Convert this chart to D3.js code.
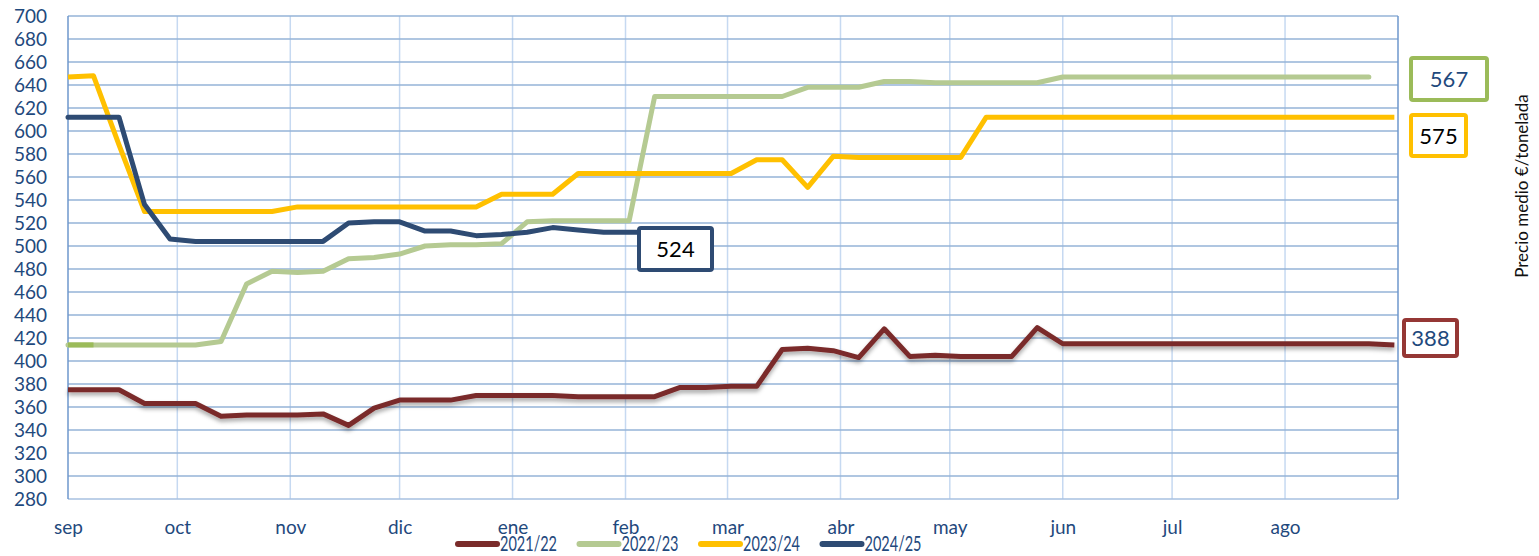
<!DOCTYPE html>
<html lang="es">
<head>
  <meta charset="UTF-8">
  <title>Precio medio €/tonelada</title>
  <style>
    body { margin: 0; background: #fff; }
    svg { display: block; font-family: Lato, "Open Sans", sans-serif; }
    .tick text { fill: #1F497D; }
    .line { fill: none; stroke-width: 5px; stroke-linejoin: round; }
  </style>
</head>
<body>
  <svg width="1539" height="556"></svg>

  <script src="https://d3js.org/d3.v7.min.js"></script>
  <script>
    // weekly prices, first week starts 1 sep
    const seasons = ["2021/22", "2022/23", "2023/24", "2024/25"];
    const colors = ["#7A2B2A", "#B5CA92", "#FFC000", "#2E4B73"];

    const s2122 = [375, 375, 375, 363, 363, 363, 352, 353, 353, 353, 354, 344, 359, 366, 366, 366,
      370, 370, 370, 370, 369, 369, 369, 369, 377, 377, 378, 378, 410, 411, 409, 403, 428, 404,
      405, 404, 404, 404, 429, 415, 415, 415, 415, 415, 415, 415, 415, 415, 415, 415, 415, 415, 414];
    const s2223 = [414, 414, 414, 414, 414, 414, 417, 467, 478, 477, 478, 489, 490, 493, 500, 501,
      501, 502, 521, 522, 522, 522, 522, 630, 630, 630, 630, 630, 630, 638, 638, 638, 643, 643,
      642, 642, 642, 642, 642, 647, 647, 647, 647, 647, 647, 647, 647, 647, 647, 647, 647, 647];
    const s2324 = [647, 648, 588, 530, 530, 530, 530, 530, 530, 534, 534, 534, 534, 534, 534, 534,
      534, 545, 545, 545, 563, 563, 563, 563, 563, 563, 563, 575, 575, 551, 578, 577, 577, 577,
      577, 577, 612, 612, 612, 612, 612, 612, 612, 612, 612, 612, 612, 612, 612, 612, 612, 612, 612];
    const s2425 = [612, 612, 612, 536, 506, 504, 504, 504, 504, 504, 504, 520, 521, 521, 513, 513,
      509, 510, 512, 516, 514, 512, 512, 512, 512];
    const series = [s2122, s2223, s2324, s2425];

    const monthLabels = ["sep", "oct", "nov", "dic", "ene", "feb", "mar", "abr", "may", "jun", "jul", "ago"];
    const yTicks = d3.range(280, 701, 20);

    // boxed end labels
    const endLabels = [
      { text: "567", border: "#9BBB59", color: "#1F497D", x: 1411, y: 58, w: 76, h: 42 },
      { text: "575", border: "#FFC000", color: "#000", x: 1411, y: 115, w: 55, h: 41 },
      { text: "388", border: "#953735", color: "#1F497D", x: 1404, y: 320, w: 53, h: 36 },
      { text: "524", border: "#2E4B73", color: "#000", x: 639, y: 228, w: 73, h: 42 }
    ];

    const svg = d3.select("svg");
    const mLeft = 68, mRight = 1398, mTop = 16, mBottom = 499;

    const start = new Date(2022, 8, 1), end = new Date(2023, 8, 1);
    const x = d3.scaleTime().domain([start, end]).range([mLeft, mRight]);
    const y = d3.scaleLinear().domain([280, 700]).range([mBottom, mTop]);
    const week = i => d3.timeDay.offset(start, 7 * i);
    const months = d3.timeMonth.range(start, end);

    // vertical grid
    svg.append("g").selectAll("line")
      .data(months.slice(1))
      .join("line")
      .attr("x1", d => x(d)).attr("x2", d => x(d))
      .attr("y1", mTop).attr("y2", mBottom)
      .attr("stroke", "#C6D9F1").attr("stroke-width", 1.5);

    // horizontal grid
    svg.append("g").selectAll("line")
      .data(yTicks)
      .join("line")
      .attr("x1", mLeft).attr("x2", mRight)
      .attr("y1", d => y(d)).attr("y2", d => y(d))
      .attr("stroke", d => d === 280 ? "#A7C0E0" : "#95B3D7").attr("stroke-width", 1.5);

    // axis frame
    svg.append("line").attr("x1", mLeft).attr("x2", mLeft).attr("y1", mTop).attr("y2", mBottom)
      .attr("stroke", "#6E97CC").attr("stroke-width", 1.5);
    svg.append("line").attr("x1", mRight).attr("x2", mRight).attr("y1", mTop).attr("y2", mBottom)
      .attr("stroke", "#6E97CC").attr("stroke-width", 1.5);

    // y axis
    const yAxis = svg.append("g")
      .attr("transform", `translate(${mLeft},0)`)
      .call(d3.axisLeft(y).tickValues(yTicks).tickSize(0).tickPadding(21));
    yAxis.select(".domain").remove();
    yAxis.selectAll("text").attr("font-size", 19).attr("font-family", "Lato, sans-serif");

    // x axis (month labels)
    const xAxis = svg.append("g")
      .attr("transform", `translate(0,${mBottom})`)
      .call(d3.axisBottom(x).tickValues(months).tickSize(0).tickPadding(22)
        .tickFormat((d, i) => monthLabels[i]));
    xAxis.select(".domain").remove();
    xAxis.selectAll("text").attr("font-size", 19).attr("font-family", "Lato, sans-serif");

    // shadow for the older season
    const defs = svg.append("defs");
    const f = defs.append("filter").attr("id", "shadow")
      .attr("x", "-5%").attr("y", "-20%").attr("width", "110%").attr("height", "160%");
    f.append("feDropShadow").attr("dx", 0).attr("dy", 3).attr("stdDeviation", 2)
      .attr("flood-color", "#000").attr("flood-opacity", 0.35);

    const line = d3.line()
      .x((d, i) => x(week(i)))
      .y(d => y(d));

    svg.append("g").selectAll("path")
      .data(series)
      .join("path")
      .attr("class", "line")
      .attr("d", d => line(d))
      .attr("stroke", (d, i) => colors[i])
      .attr("stroke-linecap", (d, i) => i === 1 || i === 3 ? "round" : "butt")
      .attr("filter", (d, i) => i === 0 ? "url(#shadow)" : null);

    // first week of 2022/23 drawn darker
    svg.append("path")
      .attr("class", "line")
      .attr("d", line(s2223.slice(0, 2)))
      .attr("stroke", "#9BBB59");

    // end labels
    const lab = svg.append("g").selectAll("g")
      .data(endLabels)
      .join("g")
      .attr("transform", d => `translate(${d.x},${d.y})`);
    lab.append("rect")
      .attr("width", d => d.w).attr("height", d => d.h)
      .attr("rx", 2)
      .attr("fill", "#fff")
      .attr("stroke", d => d.border).attr("stroke-width", 4);
    lab.append("text")
      .attr("x", d => d.w / 2).attr("y", d => d.h / 2 + 8)
      .attr("text-anchor", "middle")
      .attr("font-size", 22)
      .attr("fill", d => d.color)
      .text(d => d.text);

    // y title
    svg.append("text")
      .attr("transform", "translate(1528,186) rotate(-90)")
      .attr("text-anchor", "middle")
      .attr("font-size", 17)
      .attr("fill", "#111")
      .text("Precio medio €/tonelada");

    // legend
    const leg = svg.append("g").selectAll("g")
      .data(seasons)
      .join("g")
      .attr("transform", (d, i) => `translate(${458 + i * 121.5},544)`);
    leg.append("line")
      .attr("x1", 0).attr("x2", 39)
      .attr("stroke", (d, i) => colors[i])
      .attr("stroke-width", 6).attr("stroke-linecap", "round");
    leg.append("text")
      .attr("x", 42).attr("y", 7)
      .attr("font-size", 21)
      .attr("fill", "#1F497D")
      .attr("textLength", 57).attr("lengthAdjust", "spacingAndGlyphs")
      .text(d => d);
  </script>
</body>
</html>
